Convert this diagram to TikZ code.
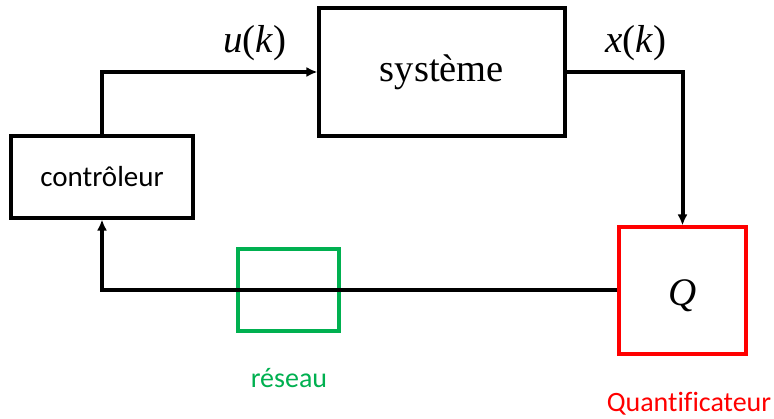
\documentclass[tikz,border=0pt]{standalone}
\usepackage{fontspec}
\setmainfont{Liberation Serif}
\newfontfamily\calibri[Ligatures=NoCommon]{Carlito}
\usetikzlibrary{arrows.meta}
\definecolor{vert}{RGB}{0,176,80}
\definecolor{rouge}{RGB}{255,0,0}
\tikzset{
	bloc/.style={draw, line width=3.05pt, inner sep=0pt},
	fleche/.style={line width=4pt, -{Latex[length=11pt,width=10pt]}},
	times/.style={font=\fontsize{39}{41}\selectfont},
	sans/.style={font=\calibri\fontsize{28}{30}\selectfont},
}

\begin{document}
\begin{tikzpicture}[x=1pt, y=-1pt]
		%%%%% START %%%%%
		
		\useasboundingbox (0, 0) rectangle (774, 419);
		
		\node[bloc, minimum width=182pt, minimum height=82pt, sans, font=\calibri\fontsize{29}{30}\selectfont] (ctrl) at (102, 177) {contrôleur};
		\node[bloc, minimum width=246pt, minimum height=128pt, font=\fontsize{38.5}{40}\selectfont] (sys) at (442, 72) {système};
		\node[bloc, draw=rouge, minimum width=127pt, minimum height=127pt, times] (quant) at (682.5, 290.5) {\raisebox{-15pt}[0pt][0pt]{\textit{Q}}};
		\node[bloc, draw=vert, minimum width=101pt, minimum height=82pt] (reseau) at (288.5, 290) {};
		
		\node[times] (u) at (255, 43) {\textit{u}(\textit{k})};
		\node[times] (x) at (636, 43) {\textit{x}(\textit{k})};
		\node[sans, text=vert] (lreseau) at (289, 378) {réseau};
		\node[sans, text=rouge] (lquant) at (689, 404) {Quantificateur};
		
		\draw[fleche] (ctrl.north) |- (sys.west);
		\draw[fleche] (sys.east) -| (quant.north);
		\draw[fleche] (quant.west) -| (ctrl.south);
		
		%%%%% END %%%%%
\end{tikzpicture}
\end{document}
